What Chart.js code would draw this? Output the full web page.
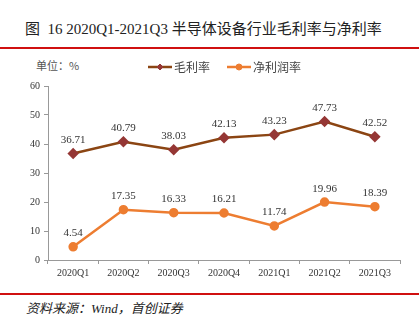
<!DOCTYPE html>
<html>
<head>
<meta charset="utf-8">
<script src="https://cdn.jsdelivr.net/npm/chart.js@4/dist/chart.umd.min.js"></script>
<style>
  body { margin: 0; background: #fff; width: 419px; height: 321px; overflow: hidden; position: relative; }
  #title { position: absolute; left: 25px; top: 17px; font: 15px "Liberation Serif", "Noto Sans CJK SC"; color: #222; white-space: nowrap; }
  .rule { position: absolute; left: 0; width: 419px; height: 2px; background: #d01010; }
  #unit { position: absolute; left: 36px; top: 57px; font: 11px "Noto Sans CJK SC"; color: #555; }
  #source { position: absolute; left: 26px; top: 298px; font: italic 13px "Liberation Serif", "Noto Sans CJK SC"; color: #222; white-space: nowrap; }
  #wrap { position: absolute; left: 0; top: 55px; width: 419px; height: 227px; }
</style>
</head>
<body>
<div id="title">图&nbsp; 16 2020Q1-2021Q3 半导体设备行业毛利率与净利率</div>
<div class="rule" style="top:47px"></div>
<div id="unit">单位：%</div>
<div id="wrap"><canvas id="chart"></canvas></div>
<div class="rule" style="top:293px"></div>
<div id="source">资料来源：Wind，首创证券</div>

<script>
// -----------------------------
// DATA
// -----------------------------
const quarters = ["2020Q1", "2020Q2", "2020Q3", "2020Q4", "2021Q1", "2021Q2", "2021Q3"];
const grossMargin = [36.71, 40.79, 38.03, 42.13, 43.23, 47.73, 42.52];
const netMargin = [4.54, 17.35, 16.33, 16.21, 11.74, 19.96, 18.39];
const yTicks = [0, 10, 20, 30, 40, 50, 60];

const grossColor = "#8B4513";
const grossMarker = "#953735";
const netColor = "#ED7D31";

// -----------------------------
// PLUGINS
// -----------------------------
const valueLabels = {
    id: "valueLabels",
    afterDatasetsDraw(chart) {
        const ctx = chart.ctx;
        ctx.save();
        ctx.font = "11px 'Liberation Serif'";
        ctx.fillStyle = "#333";
        ctx.textAlign = "center";
        ctx.textBaseline = "bottom";
        chart.data.datasets.forEach((ds, i) => {
            chart.getDatasetMeta(i).data.forEach((pt, j) => {
                ctx.fillText(ds.data[j].toFixed(2), pt.x, pt.y - 8);
            });
        });
        ctx.restore();
    }
};

const lineLegend = {
    id: "lineLegend",
    afterDraw(chart) {
        const ctx = chart.ctx;
        const spots = [148, 227];
        ctx.save();
        chart.data.datasets.forEach((ds, i) => {
            const x = spots[i];
            const y = 12;
            ctx.strokeStyle = ds.borderColor;
            ctx.lineWidth = 2.5;
            ctx.beginPath();
            ctx.moveTo(x, y);
            ctx.lineTo(x + 24, y);
            ctx.stroke();
            ctx.fillStyle = ds.pointBackgroundColor;
            ctx.strokeStyle = ds.pointBorderColor;
            ctx.lineWidth = 1;
            Chart.helpers.drawPoint(ctx, {
                pointStyle: ds.pointStyle,
                radius: 3,
                rotation: 0,
                borderWidth: 1
            }, x + 12, y);
            ctx.font = "12px 'Noto Sans CJK SC'";
            ctx.fillStyle = "#444";
            ctx.textBaseline = "middle";
            ctx.fillText(ds.label, x + 26, y);
        });
        ctx.restore();
    }
};

// -----------------------------
// CHART
// -----------------------------
const ctx = document.getElementById("chart").getContext("2d");
new Chart(ctx, {
    type: "line",
    data: {
        labels: quarters,
        datasets: [{
            label: "毛利率",
            data: grossMargin,
            borderColor: grossColor,
            borderWidth: 2.5,
            pointStyle: "rectRot",
            pointRadius: 4,
            pointBackgroundColor: grossMarker,
            pointBorderColor: grossMarker,
            tension: 0
        }, {
            label: "净利润率",
            data: netMargin,
            borderColor: netColor,
            borderWidth: 2.5,
            pointStyle: "circle",
            pointRadius: 3.5,
            pointBackgroundColor: netColor,
            pointBorderColor: netColor,
            tension: 0
        }]
    },
    options: {
        responsive: true,
        maintainAspectRatio: false,
        animation: false,
        layout: { padding: { top: 31, right: 19, left: 0, bottom: 0 } },
        plugins: { legend: { display: false }, tooltip: { enabled: false } },
        scales: {
            x: {
                offset: true,
                grid: { display: true, drawOnChartArea: false, offset: true, tickLength: 4, color: "#999" },
                border: { color: "#999", width: 1 },
                ticks: { color: "#333", font: { family: "Liberation Serif", size: 10 }, padding: 3, maxRotation: 0 }
            },
            y: {
                min: 0,
                max: 60,
                afterBuildTicks(scale) { scale.ticks = yTicks.map(v => ({ value: v })); },
                afterFit(scale) { scale.width = 48; },
                grid: { display: true, drawOnChartArea: false, tickLength: 4, color: "#999" },
                border: { color: "#999", width: 1 },
                ticks: { color: "#333", font: { family: "Liberation Serif", size: 10 }, padding: 4 }
            }
        }
    },
    plugins: [valueLabels, lineLegend]
});
</script>
</body>
</html>
